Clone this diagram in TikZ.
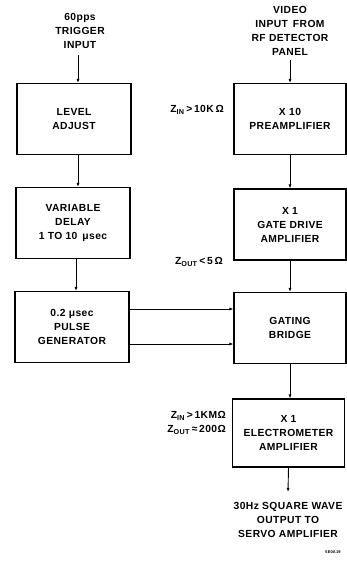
\documentclass[tikz,border=0pt]{standalone}
\usepackage{fontspec}
\setmainfont{Liberation Sans}[LetterSpace=4]
\usetikzlibrary{calc,arrows.meta}

\tikzset{
  blok/.style={draw,line width=1.1pt,minimum width=114pt,minimum height=71pt,align=center,inner sep=0pt},
  pfeil/.style={line width=0.9pt,-{Latex[length=4pt,width=3pt]}},
  txt/.style={align=center,inner sep=0pt}
}

\begin{document}
\begin{tikzpicture}[x=1pt,y=-1pt,font=\bfseries\fontsize{10.3}{14}\selectfont]
        \useasboundingbox (0,0) rectangle (347,561);

        % linke Spalte
        \node[blok] (level) at (74,119) {LEVEL\\ADJUST};
        \node[blok] (delay) at (73,223) {VARIABLE\\DELAY\\1 TO 10 \,μsec};
        \node[blok] (pulse) at (72,327) {0.2 μsec\\PULSE\\GENERATOR};

        % rechte Spalte
        \node[blok,minimum width=112pt] (preamp) at (290,119) {X 10\\PREAMPLIFIER};
        \node[blok,minimum width=112pt] (gate) at (290,224.5) {X 1\\GATE DRIVE\\AMPLIFIER};
        \node[blok,minimum width=112pt] (bridge) at (290,328) {GATING\\BRIDGE};
        \node[blok,minimum width=112pt,minimum height=68pt] (electro) at (288.5,433) {X 1\\ELECTROMETER\\AMPLIFIER};

        % Eingaenge und Ausgang
        \node[txt] (trig) at (80,31) {60pps\\TRIGGER\\INPUT};
        \node[txt] (video) at (290,31) {VIDEO\\INPUT \,FROM\\RF DETECTOR\\PANEL};
        \node[txt] (servo) at (288,520) {30Hz SQUARE WAVE\\OUTPUT TO\\SERVO AMPLIFIER};
        \coordinate (trigend) at (78,55);
        \coordinate (videoend) at (290,60);
        \coordinate (servoend) at (288,492);

        % Impedanzen
        \node[txt,anchor=east] (zin1) at (224,110) {Z\textsubscript{IN}\,>\,10K\,Ω};
        \node[txt,anchor=east] (zout1) at (223,262) {Z\textsubscript{OUT}\,<\,5\,Ω};
        \node[txt,anchor=east,align=right] (zel) at (226,423) {Z\textsubscript{IN}\,>\,1KMΩ\\Z\textsubscript{OUT}\,≈\,200Ω};

        \node[font=\bfseries\fontsize{4}{4}\selectfont] (tag) at (333,552) {6E0A19};

        \draw[pfeil] (trigend) -- (trigend |- level.north);
        \draw[pfeil] ([xshift=4pt]level.south) -- ([xshift=4pt]level.south |- delay.north);
        \draw[pfeil] ([xshift=3pt]delay.south) -- ([xshift=3pt]delay.south |- pulse.north);
        \draw[pfeil] ([yshift=18pt]pulse.east) -- ([yshift=18pt]pulse.east -| bridge.west);
        \draw[pfeil] ([yshift=-17pt]pulse.east) -- ([yshift=-17pt]pulse.east -| bridge.west);

        \draw[pfeil] (videoend) -- (preamp.north);
        \draw[pfeil] (preamp.south) -- (gate.north);
        \draw[pfeil] (gate.south) -- (bridge.north);
        \draw[pfeil] (bridge.south) -- (bridge.south |- electro.north);
        \draw[pfeil] (electro.south) -- (servoend);
    \end{tikzpicture}
\end{document}
